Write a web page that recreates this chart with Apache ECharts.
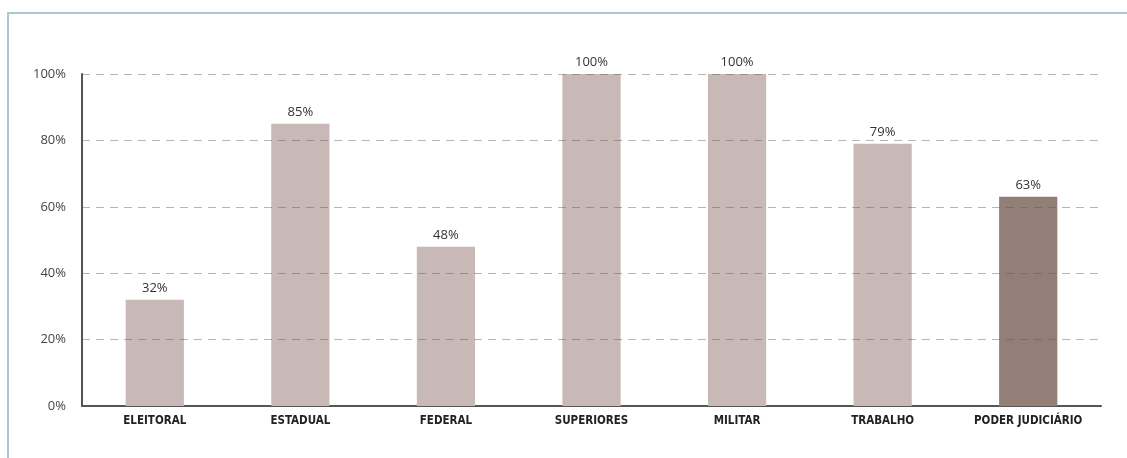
<!DOCTYPE html>
<html>
<head>
<meta charset="utf-8">
<script src="https://cdn.jsdelivr.net/npm/echarts@6/dist/echarts.min.js"></script>
<style>
html,body{margin:0;padding:0;background:#fff;}
#frame{position:absolute;left:7px;top:12px;width:1120px;height:446px;border-top:2px solid #a9c9cd;border-left:2px solid #a9c9cd;box-sizing:border-box;}
#chart{position:absolute;left:0;top:0;width:1127px;height:458px;}
</style>
</head>
<body>
<div id="frame"></div>
<div id="chart"></div>
<script>
const categories = ['ELEITORAL','ESTADUAL','FEDERAL','SUPERIORES','MILITAR','TRABALHO','PODER JUDICIÁRIO'];
const values = [32, 85, 48, 100, 100, 79, 63];
const barColors = ['#c8b9b6','#c8b9b6','#c8b9b6','#c8b9b6','#c8b9b6','#c8b9b6','#937f77'];

const chart = echarts.init(document.getElementById('chart'), null, {renderer:'canvas'});
chart.setOption({
  animation:false,
  grid:{left:82, right:26, top:74, bottom:52},
  xAxis:{
    type:'category',
    data:categories,
    axisLine:{lineStyle:{color:'#555',width:2}},
    axisTick:{show:false},
    axisLabel:{color:'#222',fontWeight:'bold',fontSize:11.5,fontFamily:'"Liberation Sans Narrow","DejaVu Sans Condensed",sans-serif',margin:9}
  },
  yAxis:{
    type:'value',
    min:0,max:100,interval:20,
    z:3,
    axisLine:{show:true,lineStyle:{color:'#555',width:2}},
    axisTick:{show:false},
    axisLabel:{formatter:'{value}%',color:'#444',fontSize:13,fontFamily:'"Open Sans",sans-serif',margin:16},
    splitLine:{show:true,lineStyle:{type:[8,6],color:'rgba(90,90,90,0.45)',width:1}}
  },
  series:[{
    type:'bar',
    data:values.map((v,i)=>({value:v,itemStyle:{color:barColors[i]}})),
    barWidth:'40%',
    label:{show:true,position:'top',formatter:'{c}%',color:'#333',fontSize:13,fontFamily:'"Open Sans",sans-serif',distance:5}
  }]
});
</script>
</body>
</html>
